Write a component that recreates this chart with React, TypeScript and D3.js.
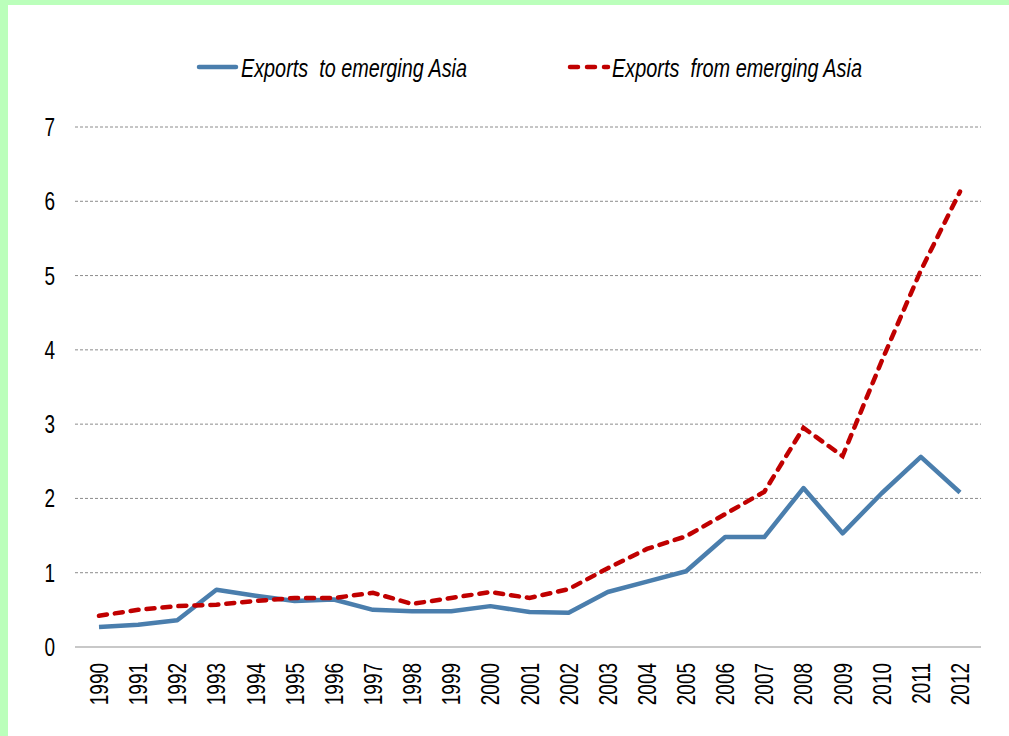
import React, { useEffect, useRef } from "react";
import * as d3 from "d3";

const years = [
  "1990", "1991", "1992", "1993", "1994", "1995", "1996", "1997", "1998", "1999", "2000",
  "2001", "2002", "2003", "2004", "2005", "2006", "2007", "2008", "2009", "2010", "2011", "2012",
];

const exportsTo = [
  0.27, 0.3, 0.36, 0.77, 0.69, 0.62, 0.64, 0.5, 0.48, 0.48, 0.55,
  0.47, 0.46, 0.74, 0.88, 1.02, 1.48, 1.48, 2.14, 1.53, 2.07, 2.56, 2.08,
];

const exportsFrom = [
  0.42, 0.5, 0.55, 0.57, 0.62, 0.66, 0.66, 0.73, 0.58, 0.66, 0.74,
  0.66, 0.78, 1.06, 1.32, 1.49, 1.79, 2.09, 2.95, 2.57, 3.85, 5.07, 6.13,
];

const yTicks = [0, 1, 2, 3, 4, 5, 6, 7];

const seriesNames = ["Exports  to emerging Asia", "Exports  from emerging Asia"];

const FONT = "'Liberation Sans', Arial, sans-serif";

const ExportsChart: React.FC<{ width?: number; height?: number }> = ({
  width = 1009,
  height = 736,
}) => {
  const ref = useRef<SVGSVGElement | null>(null);

  useEffect(() => {
    const svg = d3.select(ref.current);
    svg.selectAll("*").remove();
    svg.attr("width", width).attr("height", height);

    // Background: green frame with white panel
    svg.append("rect").attr("width", width).attr("height", height).attr("fill", "#BBFFBB");
    svg
      .append("rect")
      .attr("x", 8)
      .attr("y", 5)
      .attr("width", width - 8)
      .attr("height", height - 5)
      .attr("fill", "#ffffff");

    const x = d3.scalePoint<string>().domain(years).range([99, 960]);
    const y = d3.scaleLinear().domain([0, 7]).range([647, 127]);

    // Gridlines
    svg
      .append("g")
      .selectAll("line")
      .data(yTicks.filter((t) => t > 0))
      .enter()
      .append("line")
      .attr("x1", 75)
      .attr("x2", 981)
      .attr("y1", (d) => y(d))
      .attr("y2", (d) => y(d))
      .attr("stroke", "#8c8c8c")
      .attr("stroke-width", 1)
      .attr("stroke-dasharray", "3,2");

    // Baseline
    svg
      .append("line")
      .attr("x1", 75)
      .attr("x2", 981)
      .attr("y1", y(0))
      .attr("y2", y(0))
      .attr("stroke", "#c8c8c8")
      .attr("stroke-width", 2);

    // Y labels (condensed by horizontal scaling)
    svg
      .append("g")
      .selectAll("text")
      .data(yTicks)
      .enter()
      .append("text")
      .attr("transform", (d) => `translate(55,${y(d) + 9}) scale(0.76,1)`)
      .attr("text-anchor", "end")
      .style("font-family", FONT)
      .style("font-size", "25px")
      .attr("fill", "#000")
      .text((d) => d);

    // X labels (rotated)
    svg
      .append("g")
      .selectAll("text")
      .data(years)
      .enter()
      .append("text")
      .attr("transform", (d) => `translate(${(x(d) ?? 0) + 9},663) rotate(-90) scale(0.76,1)`)
      .attr("text-anchor", "end")
      .style("font-family", FONT)
      .style("font-size", "25px")
      .attr("fill", "#000")
      .text((d) => d);

    const line = d3
      .line<number>()
      .x((_, i) => x(years[i]) ?? 0)
      .y((d) => y(d));

    svg
      .append("path")
      .datum(exportsTo)
      .attr("d", line)
      .attr("fill", "none")
      .attr("stroke", "#4A7EAD")
      .attr("stroke-width", 4.5)
      .attr("stroke-linejoin", "round");

    svg
      .append("path")
      .datum(exportsFrom)
      .attr("d", line)
      .attr("fill", "none")
      .attr("stroke", "#C00000")
      .attr("stroke-width", 4.5)
      .attr("stroke-linecap", "round")
      .attr("stroke-dasharray", "8,8");

    // Legend
    const legend = svg.append("g");
    const items = [
      { x0: 199, x1: 236, tx: 241, len: 226, color: "#4A7EAD", dash: null as string | null, name: seriesNames[0] },
      { x0: 570, x1: 608, tx: 612, len: 250, color: "#C00000", dash: "8,9", name: seriesNames[1] },
    ];
    items.forEach((it) => {
      legend
        .append("line")
        .attr("x1", it.x0)
        .attr("x2", it.x1)
        .attr("y1", 67)
        .attr("y2", 67)
        .attr("stroke", it.color)
        .attr("stroke-width", 4.5)
        .attr("stroke-linecap", "round")
        .attr("stroke-dasharray", it.dash);
      legend
        .append("text")
        .attr("x", it.tx)
        .attr("y", 77)
        .attr("textLength", it.len)
        .attr("lengthAdjust", "spacingAndGlyphs")
        .style("font-family", FONT)
        .style("font-size", "26px")
        .style("font-style", "italic")
        .style("white-space", "pre")
        .attr("fill", "#000")
        .text(it.name);
    });
  }, [width, height]);

  return <svg ref={ref} style={{ position: "absolute", left: 0, top: 0, display: "block" }}></svg>;
};

export default function App() {
  return <ExportsChart />;
}
